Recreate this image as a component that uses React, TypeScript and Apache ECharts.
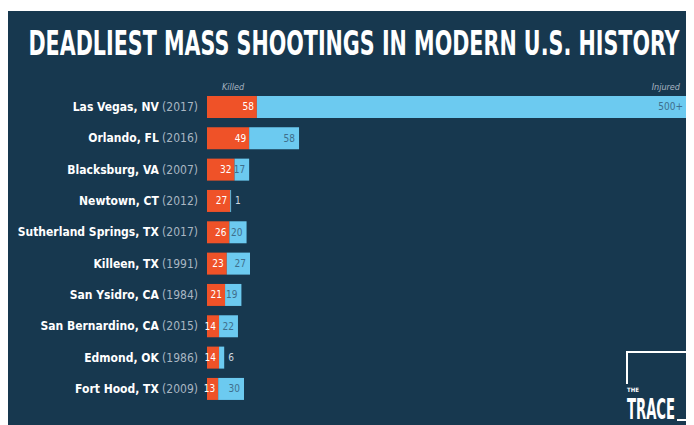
import React, { useEffect, useRef } from "react";
import * as echarts from "echarts";

const categories = [
  "Las Vegas, NV",
  "Orlando, FL",
  "Blacksburg, VA",
  "Newtown, CT",
  "Sutherland Springs, TX",
  "Killeen, TX",
  "San Ysidro, CA",
  "San Bernardino, CA",
  "Edmond, OK",
  "Fort Hood, TX",
];
const years = ["2017", "2016", "2007", "2012", "2017", "1991", "1984", "2015", "1986", "2009"];
const killed = [58, 49, 32, 27, 26, 23, 21, 14, 14, 13];
const injured = [500, 58, 17, 1, 20, 27, 19, 22, 6, 30];
const injuredLabels = ["500+", "58", "17", "1", "20", "27", "19", "22", "6", "30"];

const TITLE = "DEADLIEST MASS SHOOTINGS IN MODERN U.S. HISTORY";
const COND = '"DejaVu Sans Condensed", "DejaVu Sans", sans-serif';
const NAVY = "#17384f";
const RED = "#ef5228";
const BLUE = "#6ccaf0";

function measure(text: string, font: string): number {
  const c = document.createElement("canvas");
  const ctx = c.getContext("2d");
  if (!ctx) return 1;
  ctx.font = font;
  return ctx.measureText(text).width || 1;
}

export default function App() {
  const ref = useRef<HTMLDivElement>(null);
  useEffect(() => {
    if (!ref.current) return;
    const chart = echarts.init(ref.current, undefined, { renderer: "svg" });
    const titleW = measure(TITLE, 'bold 34px "DejaVu Sans Condensed"');
    const traceW = measure("TRACE", 'bold 29px "DejaVu Sans Condensed"');

    const catData = categories.map((c, i) => c + "|" + years[i]);

    chart.setOption({
      animation: false,
      backgroundColor: "#ffffff",
      grid: { left: 199, top: 83.3, width: 480, height: 313.3, containLabel: false },
      xAxis: { type: "value", min: 0, max: 558, show: false },
      yAxis: {
        type: "category",
        inverse: true,
        data: catData,
        axisLine: { show: false },
        axisTick: { show: false },
        splitLine: { show: false },
        axisLabel: {
          margin: 9,
          formatter: (v: string) => {
            const [n, y] = v.split("|");
            return "{n|" + n + "} {y|(" + y + ")}";
          },
          rich: {
            n: { color: "#ffffff", fontWeight: "bold", fontSize: 12, fontFamily: COND },
            y: { color: "#a9b6c2", fontSize: 12, fontFamily: COND },
          },
        },
      },
      series: [
        {
          type: "bar",
          stack: "t",
          barWidth: 22,
          data: killed,
          itemStyle: { color: RED },
          label: {
            show: true,
            position: "insideRight",
            distance: 3,
            color: "#ffffff",
            fontSize: 10,
            fontFamily: COND,
          },
        },
        {
          type: "bar",
          stack: "t",
          barWidth: 22,
          data: injured.map((v, i) => {
            const small = v < 10;
            return {
              value: v,
              label: {
                show: true,
                position: small ? "right" : "insideRight",
                distance: 4,
                color: small ? "#d0d8e0" : "#3f6f8c",
                fontSize: 10,
                fontFamily: COND,
                formatter: () => injuredLabels[i],
              },
            };
          }),
          itemStyle: { color: BLUE },
        },
      ],
      graphic: [
        { type: "rect", z: -10, shape: { x: 0, y: 3, width: 686, height: 414 }, style: { fill: NAVY } },
        {
          type: "text",
          x: 346,
          y: 35,
          scaleX: 652 / titleW,
          style: {
            text: TITLE,
            fill: "#ffffff",
            font: 'bold 34px "DejaVu Sans Condensed"',
            align: "center",
            verticalAlign: "middle",
          },
        },
        {
          type: "text",
          x: 214,
          y: 79,
          style: {
            text: "Killed",
            fill: "#a9b6c2",
            font: 'italic 9px "DejaVu Sans Condensed"',
            align: "left",
            verticalAlign: "middle",
          },
        },
        {
          type: "text",
          x: 672,
          y: 79,
          style: {
            text: "Injured",
            fill: "#a9b6c2",
            font: 'italic 9px "DejaVu Sans Condensed"',
            align: "right",
            verticalAlign: "middle",
          },
        },
        {
          type: "polyline",
          shape: {
            points: [
              [619, 376],
              [619, 344],
              [683, 344],
              [683, 412],
              [669, 412],
            ],
          },
          style: { stroke: "#ffffff", lineWidth: 2, fill: null },
        },
        {
          type: "text",
          x: 619,
          y: 384,
          style: { text: "THE", fill: "#ffffff", font: 'bold 6px "DejaVu Sans Condensed"', align: "left", verticalAlign: "bottom" },
        },
        {
          type: "text",
          x: 619,
          y: 415,
          scaleX: 48 / traceW,
          style: {
            text: "TRACE",
            fill: "#ffffff",
            font: 'bold 29px "DejaVu Sans Condensed"',
            align: "left",
            verticalAlign: "bottom",
          },
        },
      ],
    });
    return () => chart.dispose();
  }, []);
  return <div ref={ref} style={{ width: 686, height: 417 }} />;
}
